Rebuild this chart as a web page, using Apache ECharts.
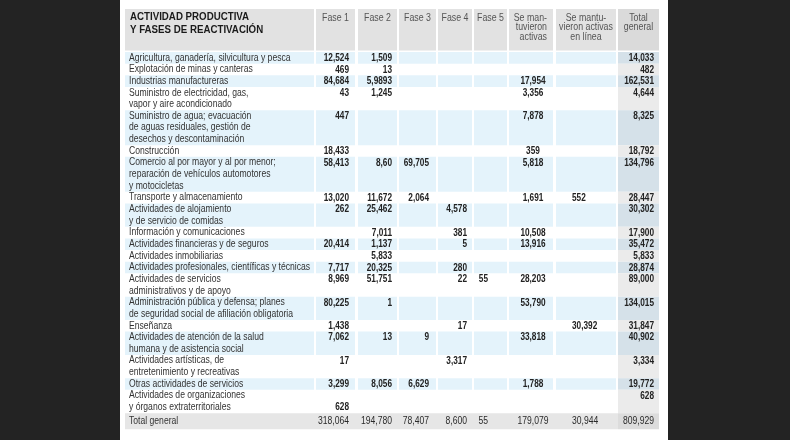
<!DOCTYPE html>
<html><head><meta charset="utf-8">
<script src="https://cdn.jsdelivr.net/npm/echarts@6/dist/echarts.min.js"></script>
<style>
html,body{margin:0;padding:0;background:#232323;width:790px;height:440px;overflow:hidden}
#panel{position:absolute;left:120px;top:0;width:548px;height:440px;background:#ffffff}
#chart{width:548px;height:440px}
</style></head>
<body><div id="panel"><div id="chart"></div></div>
<script>
// ---------- DATA ----------
const headers = ['ACTIVIDAD PRODUCTIVA\nY FASES DE REACTIVACIÓN','Fase 1','Fase 2','Fase 3','Fase 4','Fase 5','Se man-\ntuvieron\nactivas','Se mantu-\nvieron activas\nen línea','Total\ngeneral'];
const categories = [
 'Agricultura, ganadería, silvicultura y pesca',
 'Explotación de minas y canteras',
 'Industrias manufactureras',
 'Suministro de electricidad, gas,\nvapor y aire acondicionado',
 'Suministro de agua; evacuación\nde aguas residuales, gestión de\ndesechos y descontaminación',
 'Construcción',
 'Comercio al por mayor y al por menor;\nreparación de vehículos automotores\ny motocicletas',
 'Transporte y almacenamiento',
 'Actividades de alojamiento\ny de servicio de comidas',
 'Información y comunicaciones',
 'Actividades financieras y de seguros',
 'Actividades inmobiliarias',
 'Actividades profesionales, científicas y técnicas',
 'Actividades de servicios\nadministrativos y de apoyo',
 'Administración pública y defensa; planes\nde seguridad social de afiliación obligatoria',
 'Enseñanza',
 'Actividades de atención de la salud\nhumana y de asistencia social',
 'Actividades artísticas, de\nentretenimiento y recreativas',
 'Otras actividades de servicios',
 'Actividades de organizaciones\ny órganos extraterritoriales',
 'Total general'
];
const fase1 = ['12,524','469','84,684','43','447','18,433','58,413','13,020','262',null,'20,414',null,'7,717','8,969','80,225','1,438','7,062','17','3,299','628','318,064'];
const fase2 = ['1,509','13','5,9893','1,245',null,null,'8,60','11,672','25,462','7,011','1,137','5,833','20,325','51,751','1',null,'13',null,'8,056',null,'194,780'];
const fase3 = [null,null,null,null,null,null,'69,705','2,064',null,null,null,null,null,null,null,null,'9',null,'6,629',null,'78,407'];
const fase4 = [null,null,null,null,null,null,null,null,'4,578','381','5',null,'280','22',null,'17',null,'3,317',null,null,'8,600'];
const fase5 = [null,null,null,null,null,null,null,null,null,null,null,null,null,'55',null,null,null,null,null,null,'55'];
const mantuvieron = [null,null,'17,954','3,356','7,878','359','5,818','1,691',null,'10,508','13,916',null,null,'28,203','53,790',null,'33,818',null,'1,788',null,'179,079'];
const enLinea = [null,null,null,null,null,null,null,'552',null,null,null,null,null,null,null,'30,392',null,null,null,null,'30,944'];
const totalGeneral = ['14,033','482','162,531','4,644','8,325','18,792','134,796','28,447','30,302','17,900','35,472','5,833','28,874','89,000','134,015','31,847','40,902','3,334','19,772','628','809,929'];
const valueCols = [fase1, fase2, fase3, fase4, fase5, mantuvieron, enLinea, totalGeneral];

// ---------- LAYOUT ----------
const L = {
  gridLeft: 5, gridTop: 9,
  colEdges: [[0,189],[191,230],[233,272],[274,311],[313,347],[349,382],[384,428],[431,491],[493,534]],
  valAlign: [null,['right',6],['right',5],['right',7],['right',5],['right',19],['center',2],['left',16],['right',5]],
  headAlign: [['left',5],['center',0],['center',0],['center',0],['center',0],['center',0],['right',6],['center',0],['center',0]],
  headerH: 41.5, headerBlock: 43, lineH: 11.65, totalH: 16,
  secondLine: {'19-1': true}
};
const FN = "'Liberation Sans',Arial,sans-serif";
const ST = {
  title: {font: "bold 10.8px " + FN, sx: 0.9, lh: 13.4, fill: '#1a1a1a', dy: 1.3},
  head:  {font: "10px " + FN, sx: 0.88, lh: 9.6, fill: '#555555', dy: 4},
  label: {font: "10px " + FN, sx: 0.86, lh: 11.65, fill: '#333333', dy: 0},
  value: {font: "bold 11px " + FN, sx: 0.75, lh: 11.65, fill: '#222222', dy: 0},
  totLabel: {font: "10px " + FN, sx: 0.86, lh: 11.65, fill: '#333333'},
  totValue: {font: "11px " + FN, sx: 0.78, lh: 11.65, fill: '#2a2a2a'}
};
const nRows = categories.length;
const rowTop = [0], rowH = [L.headerH];
let acc = L.headerBlock;
categories.forEach((c, i) => {
  const h = (i === nRows - 1) ? L.totalH : c.split('\n').length * L.lineH;
  rowTop.push(acc); rowH.push(h); acc += h;
});
const totalHeight = acc;
const xMax = L.colEdges[L.colEdges.length - 1][1];

const cells = [];
for (let r = 0; r <= nRows; r++) for (let c = 0; c < headers.length; c++) cells.push([c, r]);

function textEl(txt, x, y, align, st) {
  return {type:'text', x: x, y: y, scaleX: st.sx, scaleY: 1,
    style:{text: txt, x: 0, y: 0, align: align, verticalAlign:'top', font: st.font, lineHeight: st.lh, fill: st.fill}};
}

function renderItem(params, api) {
  const c = api.value(0), r = api.value(1);
  const nC = headers.length;
  const isHeader = r === 0, isTotalRow = r === nRows;
  let x0 = L.colEdges[c][0], x1 = L.colEdges[c][1];
  if (isTotalRow && c < nC - 1) x1 = L.colEdges[c + 1][0];
  const y0 = rowTop[r], y1 = y0 + rowH[r];
  const p0 = api.coord([x0, y0]), p1 = api.coord([x1, y1]);
  const ri = r - 1;
  let fill = null;
  if (isHeader) fill = c === nC - 1 ? '#dadada' : '#e2e2e2';
  else if (isTotalRow) fill = c === nC - 1 ? '#dcdcdc' : '#e6e6e6';
  else if (ri % 2 === 0) fill = c === nC - 1 ? '#d5e1e9' : '#e4f3fb';
  else fill = c === nC - 1 ? '#ebebeb' : null;
  const children = [];
  if (fill) children.push({type:'rect', shape:{x:p0[0], y:p0[1], width:p1[0]-p0[0], height:p1[1]-p0[1]}, style:{fill: fill}});
  const cx0 = api.coord([L.colEdges[c][0], y0])[0], cx1 = api.coord([L.colEdges[c][1], y0])[0];
  function place(al) {
    if (al[0] === 'left') return cx0 + al[1];
    if (al[0] === 'right') return cx1 - al[1];
    return (cx0 + cx1) / 2 + al[1];
  }
  if (isHeader) {
    const al = L.headAlign[c];
    const st = c === 0 ? ST.title : ST.head;
    children.push(textEl(headers[c], place(al), p0[1] + st.dy, al[0], st));
  } else {
    let txt, st;
    if (c === 0) { txt = categories[ri]; st = isTotalRow ? ST.totLabel : ST.label; }
    else { txt = valueCols[c - 1][ri]; st = isTotalRow ? ST.totValue : ST.value; }
    if (txt) {
      const al = c === 0 ? ['left', 4] : L.valAlign[c];
      let ty = p0[1] + (st.dy || 0);
      if (L.secondLine[ri + '-' + c]) ty += L.lineH;
      if (isTotalRow) ty = p0[1] + (p1[1] - p0[1] - L.lineH) / 2;
      children.push(textEl(txt, place(al), ty, al[0], st));
    }
  }
  return {type:'group', children: children};
}

const chart = echarts.init(document.getElementById('chart'), null, {renderer:'canvas'});
chart.setOption({
  animation: false,
  grid: {left: L.gridLeft, top: L.gridTop, width: xMax, height: totalHeight},
  xAxis: {type:'value', min:0, max:xMax, show:false},
  yAxis: {type:'value', min:0, max:totalHeight, inverse:true, show:false},
  series: [{type:'custom', renderItem: renderItem, data: cells, clip:false, silent:true}]
});
</script></body></html>
